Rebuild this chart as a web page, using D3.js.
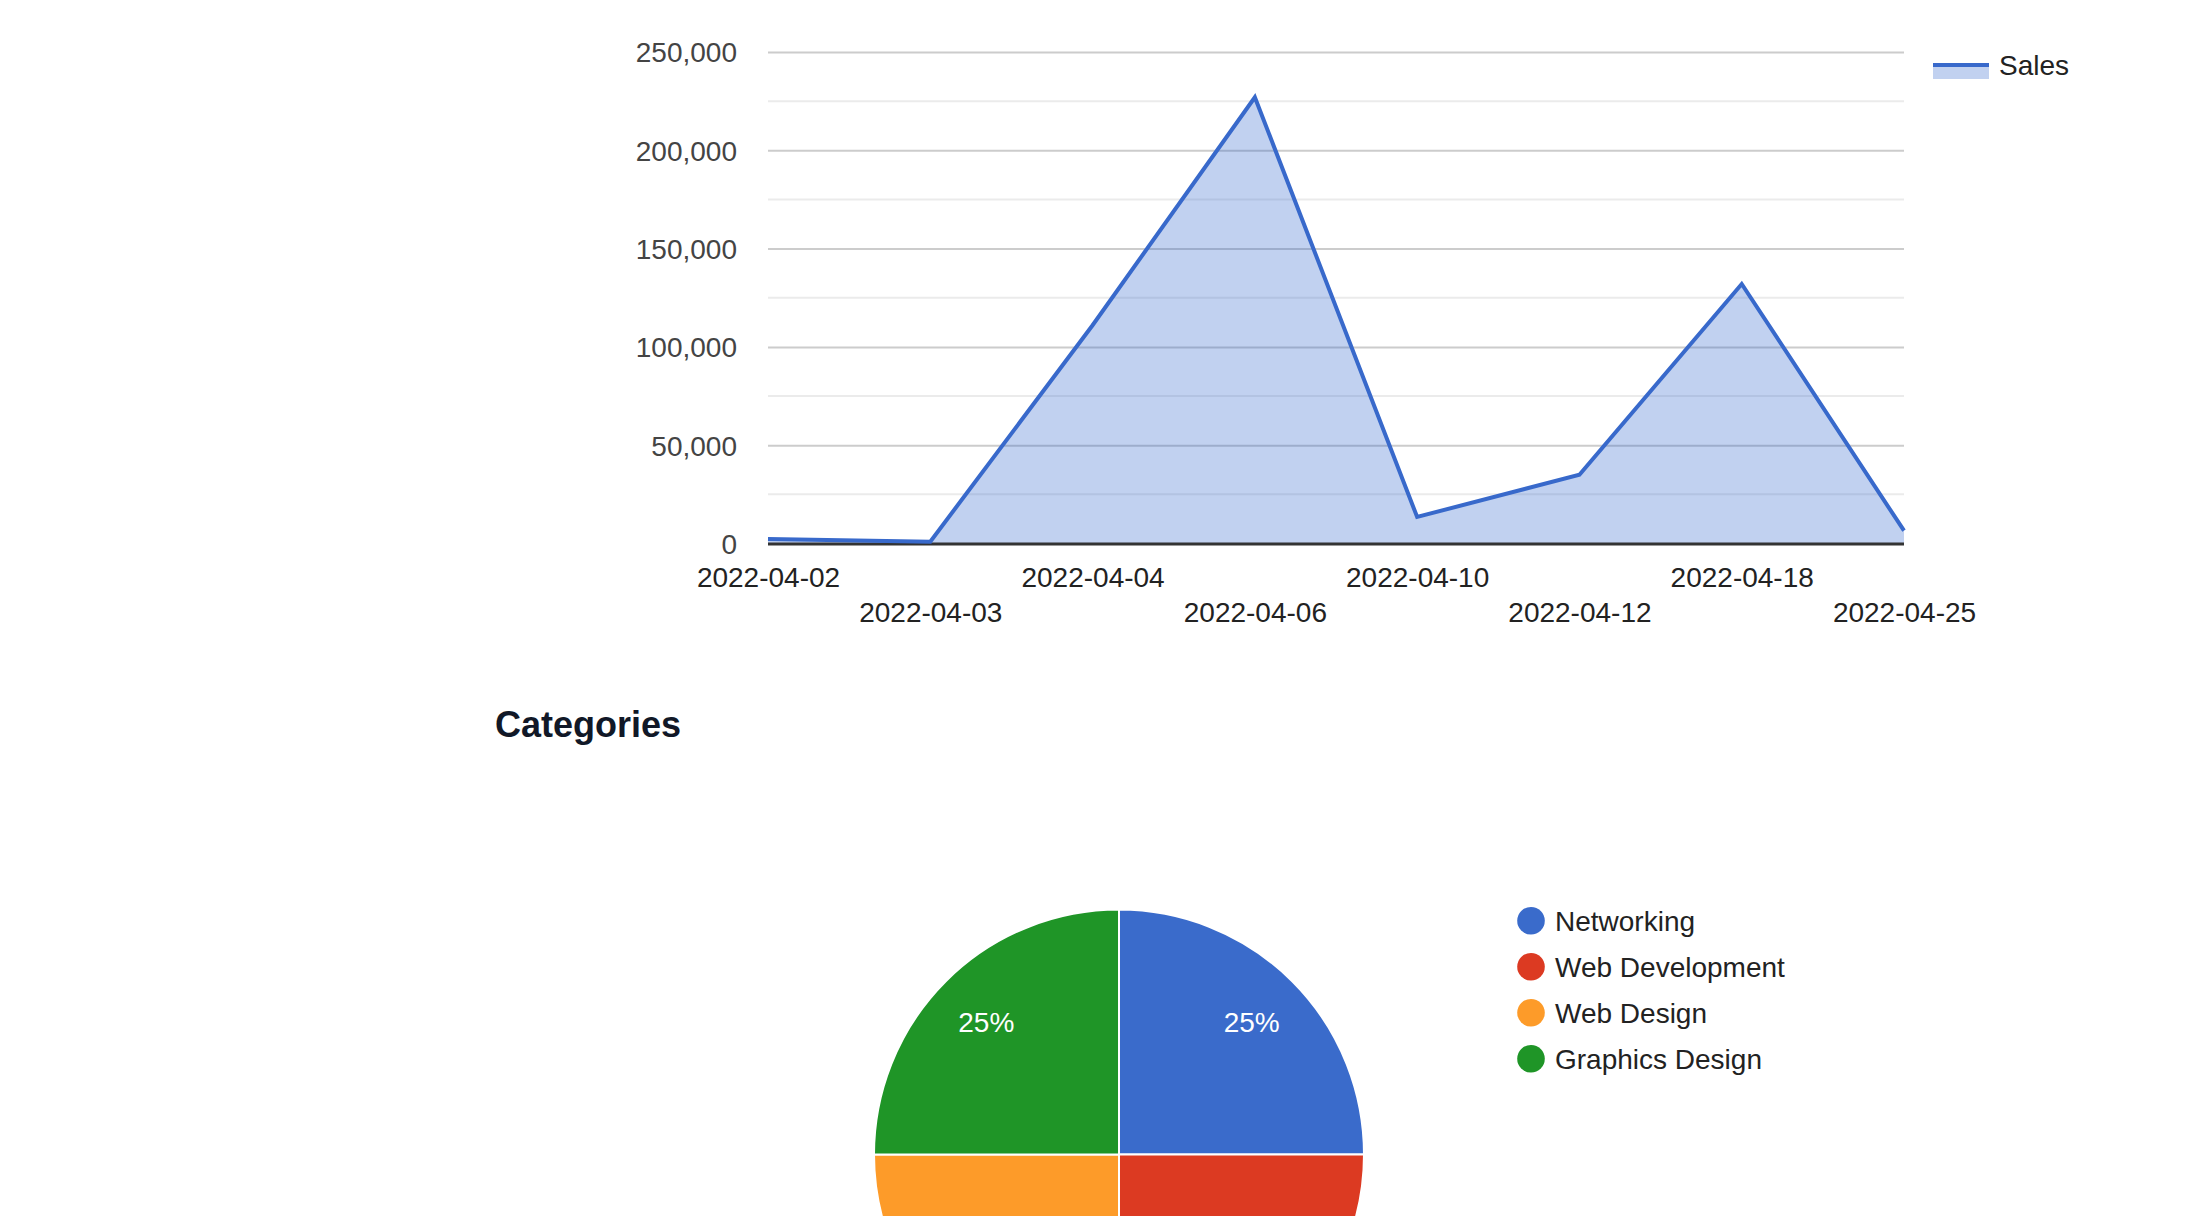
<!DOCTYPE html>
<html>
<head>
<meta charset="utf-8">
<script src="https://cdn.jsdelivr.net/npm/d3@7"></script>
<style>
  html, body { margin: 0; padding: 0; background: #fff; overflow: hidden; }
  svg { display: block; }
  text { font-family: "Liberation Sans", Arial, sans-serif; }
</style>
</head>
<body>
<svg id="chart" width="2202" height="1216"></svg>
<script>
// ---- Data ----
const dates = ['2022-04-02','2022-04-03','2022-04-04','2022-04-06','2022-04-10','2022-04-12','2022-04-18','2022-04-25'];
const sales = [2300, 900, 111000, 227000, 13500, 35000, 132000, 6500];
const seriesName = 'Sales';
const yTicks = [0, 50000, 100000, 150000, 200000, 250000];
const yMinorTicks = [25000, 75000, 125000, 175000, 225000];

const categoryTitle = 'Categories';
const categories = ['Networking', 'Web Development', 'Web Design', 'Graphics Design'];
const categoryValues = [1, 1, 1, 1];
const categoryColors = ['#3a6bcb', '#dc3a22', '#fd9b29', '#1f9527'];

// ---- Setup ----
const svg = d3.select('#chart');
const FONT = '"Liberation Sans", Arial, sans-serif';
const W = 2202, H = 1216;

// ---- Area chart ----
const x = d3.scalePoint().domain(dates).range([768, 1904]);
const y = d3.scaleLinear().domain([0, 250000]).range([543.5, 52]);
const data = dates.map((d, i) => ({ date: d, value: sales[i] }));

const g = svg.append('g');

// minor gridlines
g.selectAll('line.minor').data(yMinorTicks).join('line')
  .attr('x1', 768).attr('x2', 1904)
  .attr('y1', d => y(d)).attr('y2', d => y(d))
  .attr('stroke', '#ebebeb').attr('stroke-width', 2);

// major gridlines + axis via d3.axisLeft
const yAxis = d3.axisLeft(y).tickValues(yTicks).tickSize(-(1904 - 768)).tickPadding(31)
  .tickFormat(d3.format(','));
const yg = g.append('g').attr('transform', 'translate(768,0)').call(yAxis);
yg.select('.domain').remove();
yg.selectAll('.tick line').attr('stroke', '#cccccc').attr('stroke-width', 2);
yg.selectAll('.tick text')
  .attr('font-family', FONT).attr('font-size', 28).attr('fill', '#444')
  .attr('dy', '0.35em');
yg.selectAll('.tick').filter(d => d === 0).select('line').attr('stroke', 'none');

// area + line
const area = d3.area().x(d => x(d.date)).y0(y(0)).y1(d => y(d.value));
const line = d3.line().x(d => x(d.date)).y(d => y(d.value));
g.append('path').datum(data).attr('d', area).attr('fill', '#3366cc').attr('fill-opacity', 0.3);

// baseline
g.append('line').attr('x1', 768).attr('x2', 1904).attr('y1', y(0) + 0.5).attr('y2', y(0) + 0.5)
  .attr('stroke', '#333').attr('stroke-width', 3);

g.append('path').datum(data).attr('d', line).attr('fill', 'none')
  .attr('stroke', '#3869cb').attr('stroke-width', 4).attr('stroke-linejoin', 'miter');

// x axis labels (alternating rows)
const xAxis = d3.axisBottom(x).tickSize(0).tickPadding(0);
const xg = g.append('g').attr('transform', `translate(0,${y(0)})`).call(xAxis);
xg.select('.domain').remove();
xg.selectAll('.tick text')
  .attr('font-family', FONT).attr('font-size', 28).attr('fill', '#222')
  .attr('dy', null)
  .attr('y', (d, i) => i % 2 === 0 ? 43.2 : 78.2);

// legend
const lg = g.append('g');
lg.append('rect').attr('x', 1933).attr('y', 65).attr('width', 56).attr('height', 14)
  .attr('fill', '#3366cc').attr('fill-opacity', 0.3);
lg.append('line').attr('x1', 1933).attr('x2', 1989).attr('y1', 65).attr('y2', 65)
  .attr('stroke', '#3869cb').attr('stroke-width', 4);
lg.append('text').attr('x', 1999).attr('y', 75).text(seriesName)
  .attr('font-family', FONT).attr('font-size', 28).attr('fill', '#222');

// ---- Categories title ----
svg.append('text').attr('x', 495).attr('y', 737).text(categoryTitle)
  .attr('font-family', 'Inter, "Noto Sans", sans-serif').attr('font-size', 36)
  .attr('font-weight', 700).attr('fill', '#111827');

// ---- Pie chart ----
const cx = 1119, cy = 1154.5, R = 245;
const pie = d3.pie().sort(null).value(d => d.value);
const pieData = pie(categories.map((c, i) => ({ name: c, value: categoryValues[i], color: categoryColors[i] })));
const arc = d3.arc().innerRadius(0).outerRadius(R);
const labelArc = d3.arc().innerRadius(R * 0.766).outerRadius(R * 0.766);
const total = d3.sum(categoryValues);

const pg = svg.append('g').attr('transform', `translate(${cx},${cy})`);
pg.selectAll('path').data(pieData).join('path')
  .attr('d', arc).attr('fill', d => d.data.color)
  .attr('stroke', '#fff').attr('stroke-width', 2);
// slice labels (only those that fall inside the visible page, as in the reference)
pg.selectAll('text').data(pieData.filter(d => cy + labelArc.centroid(d)[1] + 10 < H)).join('text')
  .attr('transform', d => `translate(${labelArc.centroid(d)})`)
  .attr('text-anchor', 'middle').attr('dy', 10)
  .attr('font-family', FONT).attr('font-size', 28).attr('fill', '#fff')
  .text(d => d3.format('.0%')(d.data.value / total));

// pie legend
const pl = svg.append('g');
const items = pl.selectAll('g').data(pieData).join('g')
  .attr('transform', (d, i) => `translate(1531,${920.7 + i * 46})`);
items.append('circle').attr('r', 13.8).attr('fill', d => d.data.color);
items.append('text').attr('x', 24).attr('y', 10.5)
  .attr('font-family', FONT).attr('font-size', 28).attr('fill', '#222')
  .text(d => d.data.name);
</script>
</body>
</html>
